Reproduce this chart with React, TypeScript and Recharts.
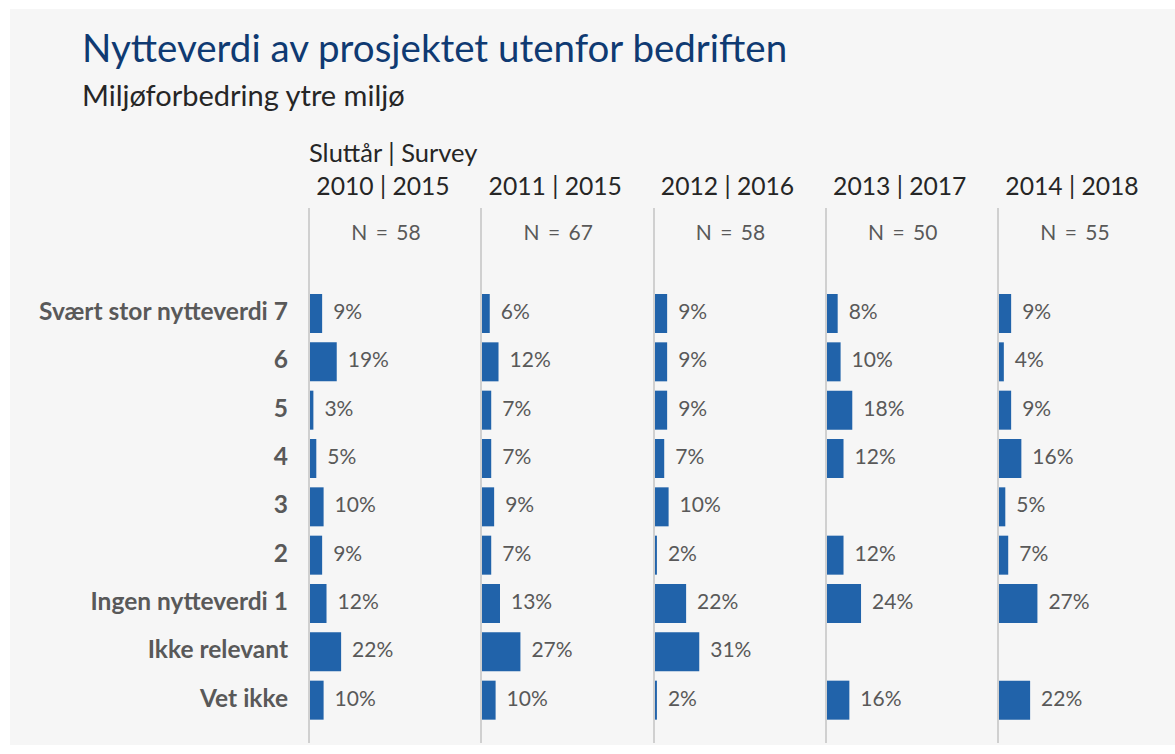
import React from 'react'
import { BarChart, Bar, XAxis, YAxis, LabelList, ReferenceLine } from 'recharts'

const categories = [
  'Svært stor nytteverdi 7',
  '6',
  '5',
  '4',
  '3',
  '2',
  'Ingen nytteverdi 1',
  'Ikke relevant',
  'Vet ikke',
]

const periods = ['2010 | 2015', '2011 | 2015', '2012 | 2016', '2013 | 2017', '2014 | 2018']
const nCounts = [58, 67, 58, 50, 55]

const values2010 = [9, 19, 3, 5, 10, 9, 12, 22, 10]
const values2011 = [6, 12, 7, 7, 9, 7, 13, 27, 10]
const values2012 = [9, 9, 9, 7, 10, 2, 22, 31, 2]
const values2013 = [8, 10, 18, 12, null, 12, 24, null, 16]
const values2014 = [9, 4, 9, 16, 5, 7, 27, null, 22]

const seriesValues = [values2010, values2011, values2012, values2013, values2014]

const FONT = 'Lato, "Open Sans", sans-serif'
const BAR_COLOR = '#2163aa'
const AXIS_X0 = 309
const PANEL_STEP = 172.25
const CHART_TOP = 208
const CHART_H = 535
const PLOT_W = 160
const PX_PER_PCT = 1.46
const LEFT_PAD = 10

function Panel({ index }: { index: number }) {
  const data = categories.map((cat, i) => ({ cat, v: seriesValues[index][i] }))
  const first = index === 0
  const axisX = AXIS_X0 + PANEL_STEP * index
  const leftW = first ? AXIS_X0 : LEFT_PAD
  const chartLeft = first ? 0 : axisX - LEFT_PAD

  return (
    <div style={{ position: 'absolute', left: chartLeft, top: CHART_TOP }}>
      <BarChart
        width={leftW + PLOT_W}
        height={CHART_H}
        data={data}
        layout="vertical"
        margin={{ top: 0, right: 0, bottom: 0, left: 0 }}
      >
        <XAxis type="number" hide domain={[0, PLOT_W / PX_PER_PCT]} />
        <YAxis
          type="category"
          dataKey="cat"
          width={leftW}
          axisLine={false}
          tickLine={false}
          tickSize={0}
          tickMargin={21}
          padding={{ top: 81, bottom: 19 }}
          tick={
            first
              ? { fill: '#595959', fontSize: 24.5, fontWeight: 700, fontFamily: FONT, dy: -2 }
              : false
          }
          interval={0}
        />
        <ReferenceLine x={0} stroke="#d0d0d0" strokeWidth={2} />
        <Bar dataKey="v" fill={BAR_COLOR} barSize={39} isAnimationActive={false}>
          <LabelList
            dataKey="v"
            position="right"
            offset={11}
            dy={-2}
            formatter={(v: any) => (v == null ? '' : `${v}%`)}
            style={{ fill: '#595959', fontSize: 21, fontFamily: FONT }}
          />
        </Bar>
      </BarChart>
    </div>
  )
}

export default function App() {
  return (
    <div
      style={{
        position: 'fixed',
        left: 0,
        top: 0,
        width: 1175,
        height: 754,
        background: '#ffffff',
        fontFamily: FONT,
        overflow: 'hidden',
      }}
    >
      <div
        style={{
          position: 'absolute',
          left: 10,
          top: 9,
          width: 1165,
          height: 736,
          background: '#f6f6f6',
        }}
      />
      <div
        style={{
          position: 'absolute',
          left: 82,
          top: 23,
          fontSize: 38.5,
          color: '#0f3a72',
          whiteSpace: 'nowrap',
          lineHeight: '48px',
        }}
      >
        Nytteverdi av prosjektet utenfor bedriften
      </div>
      <div
        style={{
          position: 'absolute',
          left: 82,
          top: 78,
          fontSize: 29,
          color: '#262626',
          whiteSpace: 'nowrap',
          lineHeight: '34px',
        }}
      >
        Miljøforbedring ytre miljø
      </div>
      <div
        style={{
          position: 'absolute',
          left: 309,
          top: 136,
          fontSize: 25.5,
          color: '#262626',
          whiteSpace: 'nowrap',
          lineHeight: '32px',
        }}
      >
        Sluttår | Survey
      </div>
      {periods.map((p, i) => (
        <div
          key={p}
          style={{
            position: 'absolute',
            left: AXIS_X0 + PANEL_STEP * i + 74 - 90,
            width: 180,
            top: 170,
            textAlign: 'center',
            fontSize: 24.7,
            color: '#262626',
            whiteSpace: 'nowrap',
            lineHeight: '32px',
          }}
        >
          {p}
        </div>
      ))}
      {nCounts.map((n, i) => (
        <div
          key={i}
          style={{
            position: 'absolute',
            left: AXIS_X0 + PANEL_STEP * i + 77 - 60,
            width: 120,
            top: 217,
            textAlign: 'center',
            fontSize: 21,
            wordSpacing: 3,
            color: '#595959',
            whiteSpace: 'pre',
            lineHeight: '30px',
          }}
        >
          {`N = ${n}`}
        </div>
      ))}
      {periods.map((p, i) => (
        <Panel key={p} index={i} />
      ))}
    </div>
  )
}
